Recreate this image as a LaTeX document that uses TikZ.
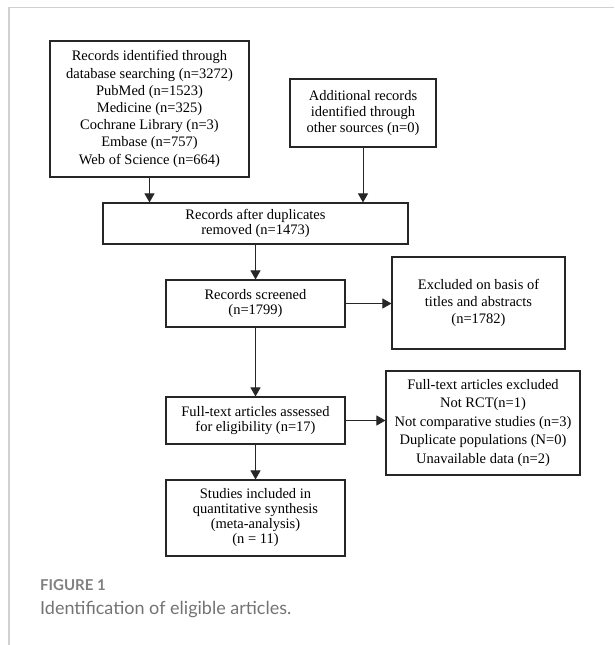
\documentclass[tikz,border=0pt]{standalone}
\usepackage{fontspec}
\setmainfont{Liberation Serif}
\newfontfamily\capfont{Lato}
\usetikzlibrary{arrows.meta}

\begin{document}
\begin{tikzpicture}[x=1pt, y=-1pt,
    box/.style={draw=black!85, line width=1.1pt, align=center, inner sep=0pt,
        font=\fontsize{14.5}{15.3}\selectfont},
    arr/.style={draw=black!85, line width=1pt, -{Triangle[length=9pt, width=10pt]}}]
    \useasboundingbox (0,0) rectangle (614,645);
    % page frame (light grey)
    \draw[black!18, line width=1.5pt] (9,645) -- (9,7.5) -- (614,7.5);

    % Identification
    \node[box, minimum width=199pt, minimum height=136pt, font=\fontsize{14.5}{17.2}\selectfont] (ident) at (149.5,109)
        {Records identified through\\database searching (n=3272)\\PubMed (n=1523)\\Medicine (n=325)\\Cochrane Library (n=3)\\Embase (n=757)\\Web of Science (n=664)};
    \node[box, minimum width=146pt, minimum height=68pt, font=\fontsize{14.5}{15.8}\selectfont] (extra) at (363,113)
        {Additional records\\identified through\\other sources (n=0)};

    % Screening
    \node[box, minimum width=305pt, minimum height=41pt] (dedup) at (255.5,223.5)
        {Records after duplicates\\removed (n=1473)};
    \node[box, minimum width=179pt, minimum height=47pt] (screen) at (255.5,303.5)
        {Records screened\\(n=1799)};
    \node[box, minimum width=173pt, minimum height=92pt, font=\fontsize{14.5}{16.7}\selectfont] (excl) at (478.5,303)
        {Excluded on basis of\\titles and abstracts\\(n=1782)};

    % Eligibility
    \node[box, minimum width=179pt, minimum height=47pt] (full) at (255.5,420.5)
        {Full-text articles assessed\\for eligibility (n=17)};
    \node[box, minimum width=194pt, minimum height=104pt, font=\fontsize{14.5}{18.5}\selectfont] (fullexcl) at (483,423)
        {Full-text articles excluded\\Not RCT(n=1)\\Not comparative studies (n=3)\\Duplicate populations (N=0)\\Unavailable data (n=2)};

    % Included
    \node[box, minimum width=179pt, minimum height=76pt, font=\fontsize{14.5}{15}\selectfont] (incl) at (255.5,518)
        {Studies included in\\quantitative synthesis\\(meta-analysis)\\(n = 11)};

    % arrows
    \draw[arr] (ident) -- (ident |- dedup.north);
    \draw[arr] (extra) -- (extra |- dedup.north);
    \draw[arr] (dedup) -- (screen);
    \draw[arr] (screen.east) -- (screen.east -| excl.west);
    \draw[arr] (screen) -- (full);
    \draw[arr] (full.east) -- (full.east -| fullexcl.west);
    \draw[arr] (full) -- (incl);

    % caption
    \node[anchor=base west, inner sep=0pt, text=black!50, font=\capfont\bfseries\fontsize{15}{18}\selectfont] (figlabel) at (40,590.7)
        {FIGURE 1};
    \node[anchor=base west, inner sep=0pt, text=black!55, font=\capfont\fontsize{18}{22}\selectfont] (figtext) at (40,614)
        {Identification of eligible articles.};
\end{tikzpicture}
\end{document}
